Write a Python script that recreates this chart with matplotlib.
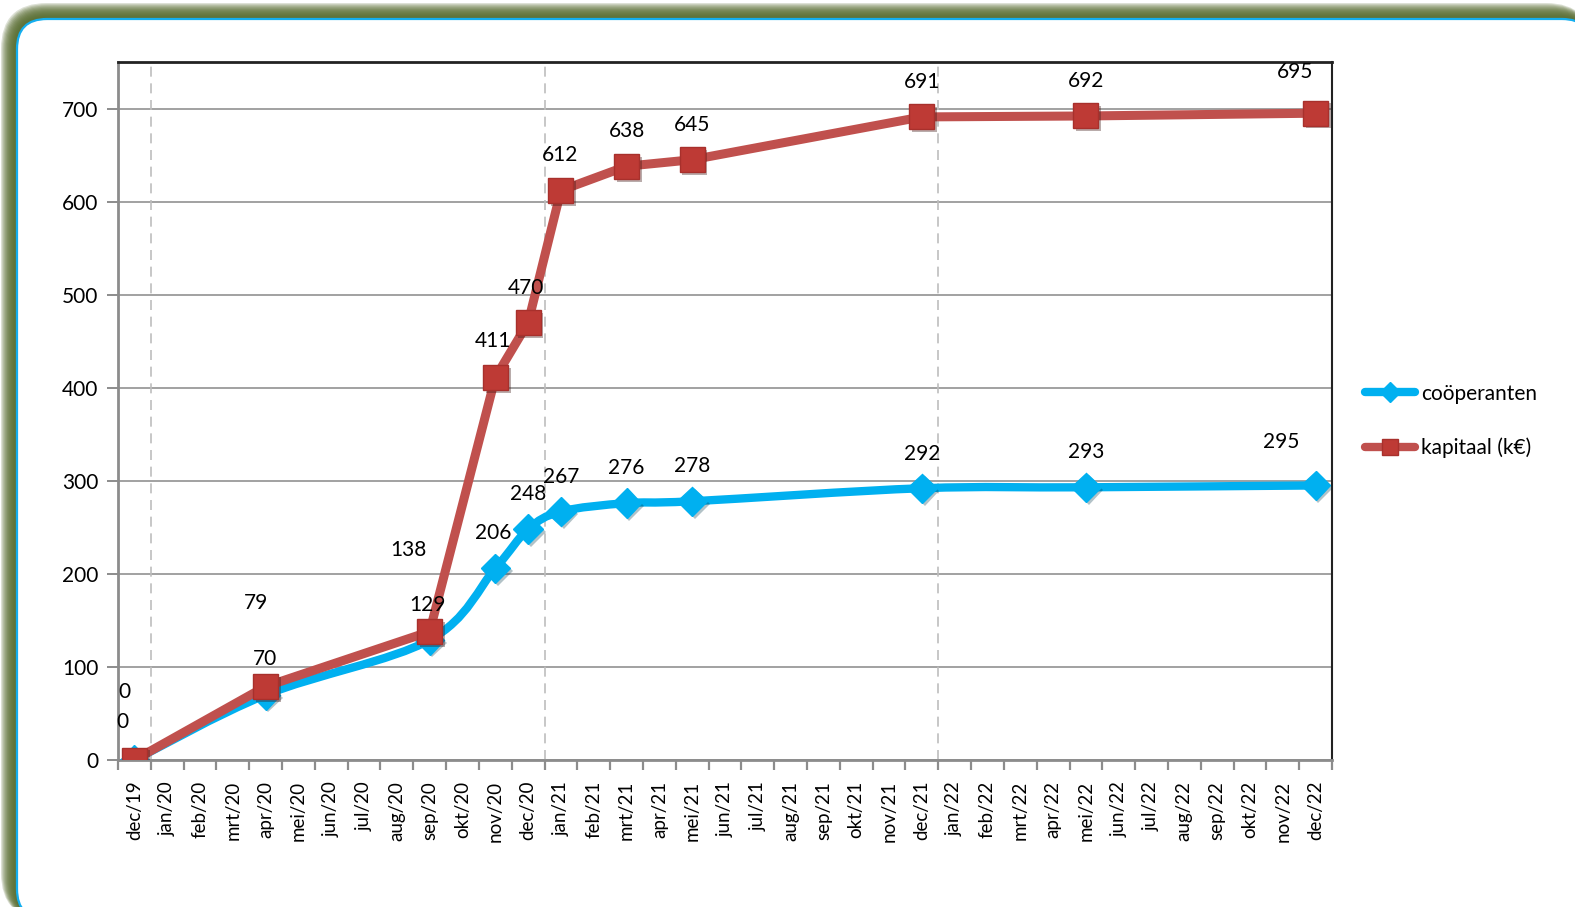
import numpy as np
import matplotlib.pyplot as plt
from matplotlib.patches import FancyBboxPatch
from matplotlib.path import Path
from matplotlib.patches import PathPatch
from matplotlib.lines import Line2D
import matplotlib.patheffects as pe

plt.rcParams['font.family'] = ['Lato', 'DejaVu Sans']

# Months on the axis (dec/19 .. dec/22)
months = ["dec/19",
          "jan/20", "feb/20", "mrt/20", "apr/20", "mei/20", "jun/20",
          "jul/20", "aug/20", "sep/20", "okt/20", "nov/20", "dec/20",
          "jan/21", "feb/21", "mrt/21", "apr/21", "mei/21", "jun/21",
          "jul/21", "aug/21", "sep/21", "okt/21", "nov/21", "dec/21",
          "jan/22", "feb/22", "mrt/22", "apr/22", "mei/22", "jun/22",
          "jul/22", "aug/22", "sep/22", "okt/22", "nov/22", "dec/22"]

# Months that have a measurement
measured = ["dec/19", "apr/20", "sep/20", "nov/20", "dec/20", "jan/21",
            "mrt/21", "mei/21", "dec/21", "mei/22", "dec/22"]
cooperanten = [0, 70, 129, 206, 248, 267, 276, 278, 292, 293, 295]
kapitaal = [0, 79, 138, 411, 470, 612, 638, 645, 691, 692, 695]

year_breaks = ["dec/19", "dec/20", "dec/21"]

# label offsets in pixels (dx, dy) relative to each point
coop_offsets = [(-12, 38), (-1, 36), (-2, 35), (-2, 35), (0, 35), (0, 35),
                (0, 35), (0, 35), (0, 34), (0, 35), (-34, 43)]
kap_offsets = [(-10, 68), (-10, 83), (-21, 82), (-2, 36), (-2, 35), (-1, 35),
               (0, 35), (0, 35), (0, 35), (0, 35), (-21, 41)]

BLUE = "#00B0F0"
RED = "#C0504D"
RED_MARK = "#BE3A35"

W, H = 1575, 907
fig = plt.figure(figsize=(W / 100, H / 100), dpi=100)

# background frame with olive glow
bg = fig.add_axes([0, 0, 1, 1])
bg.set_xlim(0, W)
bg.set_ylim(H, 0)
bg.axis("off")
for k in range(12):
    grow = 16 - k * 1.2
    bg.add_patch(FancyBboxPatch((17 - grow, 19 - grow), 1575 + grow, 900 + grow,
                                boxstyle="round,pad=0,rounding_size=%g" % (30 + grow),
                                fc="#566a2e", ec="none", alpha=0.2))
bg.add_patch(FancyBboxPatch((17, 19), 1575, 900,
                            boxstyle="round,pad=0,rounding_size=30",
                            fc="white", ec="#14AEEF", lw=1.6))

ax = fig.add_axes([118 / W, 1 - 760 / H, (1332 - 118) / W, (760 - 62) / H])
ax.set_facecolor("none")

x_all = np.arange(len(months))
xm = np.array([months.index(m) for m in measured], dtype=float)
yc = np.array(cooperanten, dtype=float)
yk = np.array(kapitaal, dtype=float)

ax.set_xlim(-0.5, len(months) - 0.5)
ax.set_ylim(0, 750)
ax.set_yticks(range(0, 701, 100))
ax.yaxis.grid(True, color="#9a9a9a", lw=1.3)
ax.set_axisbelow(True)

for m in year_breaks:
    ax.axvline(months.index(m) + 0.5, color="#bdbdbd", lw=1.2, ls=(0, (6, 4)), zorder=1)

ax.set_xticks(x_all)
ax.set_xticklabels(months, rotation=90, fontsize=13.5)
ax.set_xticks(np.arange(-0.5, len(months), 1), minor=True)
ax.tick_params(axis="x", which="major", length=0, pad=15)
ax.tick_params(axis="x", which="minor", length=7, width=1.6, color="#8c8c8c")
ax.tick_params(axis="y", length=8, width=1.4, color="#8c8c8c", labelsize=15, pad=6)

ax.spines["left"].set_color("#8c8c8c")
ax.spines["left"].set_linewidth(2)
ax.spines["bottom"].set_color("#8c8c8c")
ax.spines["bottom"].set_linewidth(2)
ax.spines["top"].set_color("#222222")
ax.spines["top"].set_linewidth(2)
ax.spines["right"].set_color("#222222")
ax.spines["right"].set_linewidth(1.5)

# smoothed line for coöperanten (Bezier through the points)
verts = [(xm[0], yc[0])]
codes = [Path.MOVETO]
n = len(xm)
for i in range(n - 1):
    p0 = np.array([xm[max(i - 1, 0)], yc[max(i - 1, 0)]])
    p1 = np.array([xm[i], yc[i]])
    p2 = np.array([xm[i + 1], yc[i + 1]])
    p3 = np.array([xm[min(i + 2, n - 1)], yc[min(i + 2, n - 1)]])
    c1 = p1 + (p2 - p0) / 6
    c2 = p2 - (p3 - p1) / 6
    verts += [tuple(c1), tuple(c2), tuple(p2)]
    codes += [Path.CURVE4] * 3
ax.add_patch(PathPatch(Path(verts, codes), fc="none", ec=BLUE, lw=6,
                       capstyle="round", joinstyle="round", zorder=3))
ax.plot(xm, yc, ls="none", marker="D", ms=15, mfc=BLUE, mec=BLUE, zorder=4,
        path_effects=[pe.SimplePatchShadow(offset=(2, -2), alpha=0.3), pe.Normal()])

ax.plot(xm, yk, color=RED, lw=6.5, solid_joinstyle="round", solid_capstyle="round", zorder=5)
ax.plot(xm, yk, ls="none", marker="s", ms=18, mfc=RED_MARK, mec="#A8302C", mew=1, zorder=6,
        path_effects=[pe.SimplePatchShadow(offset=(2, -2), alpha=0.35), pe.Normal()])

for x, y, (dx, dy) in zip(xm, yc, coop_offsets):
    ax.annotate(str(int(y)), (x, y), xytext=(dx, dy), textcoords="offset pixels",
                ha="center", va="center", fontsize=15, zorder=7)
for x, y, (dx, dy) in zip(xm, yk, kap_offsets):
    ax.annotate(str(int(y)), (x, y), xytext=(dx, dy), textcoords="offset pixels",
                ha="center", va="center", fontsize=15, zorder=7)

handles = [Line2D([], [], color=BLUE, lw=6, marker="D", ms=10, mfc=BLUE, mec=BLUE,
                  solid_capstyle="round"),
           Line2D([], [], color=RED, lw=6, marker="s", ms=12, mfc=RED_MARK, mec="#A8302C",
                  solid_capstyle="round")]
fig.legend(handles, ["coöperanten", "kapitaal (k€)"], loc="center left",
           bbox_to_anchor=(1346 / W, 1 - 421 / H), frameon=False, fontsize=15,
           handlelength=2.4, handletextpad=0.3, labelspacing=1.65)

fig.savefig("out.png", dpi=100)
